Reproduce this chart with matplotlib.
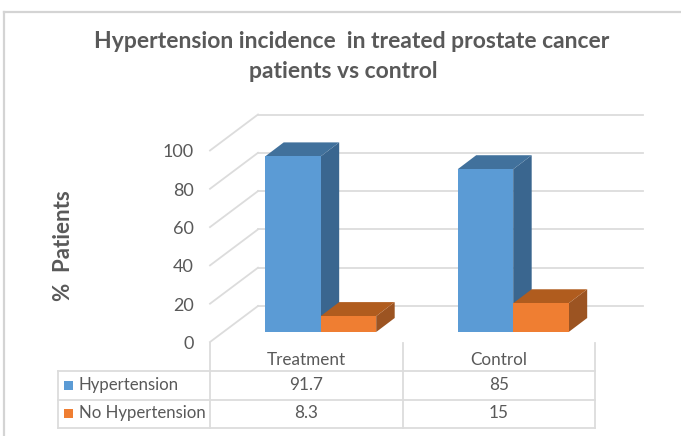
import matplotlib
matplotlib.use('Agg')
from matplotlib import pyplot as plt
from matplotlib.lines import Line2D
from matplotlib.patches import Polygon, Rectangle

plt.rcParams['font.family'] = ['Lato', 'DejaVu Sans']

categories = ['Treatment', 'Control']
hypertension = [91.7, 85]
no_hypertension = [8.3, 15]
y_ticks = [0, 20, 40, 60, 80, 100]

W, H = 681, 436
GRID = '#dcdcdc'
TEXT = '#595959'

# front plane of the fake 3D box, in pixels from top left
LEFT, CELL, ZERO_Y, PX_PER_UNIT = 210, 192.5, 342, 1.915
BACK_DX, BACK_DY = 48, 36
DEPTH_DX, DEPTH_DY = 18.5, 14
FLOOR = 10 / PX_PER_UNIT
BAR_W = 55.5 / CELL


def fig_line(fig, x, y, color=GRID, lw=1.3):
    fig.add_artist(Line2D([v / W for v in x], [1 - v / H for v in y], color=color, lw=lw))


def bar_3d(ax, left, value, front, side, top):
    ax.bar(left, value, BAR_W, bottom=FLOOR, align='edge', color=front, zorder=3)
    dx = DEPTH_DX / CELL
    dy = DEPTH_DY / PX_PER_UNIT
    y0 = FLOOR
    y1 = FLOOR + value
    right = left + BAR_W
    ax.add_patch(Polygon([(right, y0), (right + dx, y0 + dy), (right + dx, y1 + dy), (right, y1)],
                         color=side, lw=0, zorder=2, clip_on=False))
    ax.add_patch(Polygon([(left, y1), (right, y1), (right + dx, y1 + dy), (left + dx, y1 + dy)],
                         color=top, lw=0, zorder=2, clip_on=False))


fig = plt.figure(figsize=(W / 100, H / 100), dpi=100)
ax = fig.add_axes([LEFT / W, 1 - ZERO_Y / H, 2 * CELL / W, 100 * PX_PER_UNIT / H])
ax.set_xlim(-0.5, 1.5)
ax.set_ylim(0, 100)
ax.axis('off')
ax.set_zorder(5)  # bars sit on top of the figure level gridlines

# outer frame, only left and top are visible in the crop
fig_line(fig, [3.5, 3.5], [12, 436], '#d4d4d4', 1.6)
fig_line(fig, [3.5, 681], [12, 12], '#d4d4d4', 1.6)

# gridlines on side and back wall
for t in y_ticks:
    y = ZERO_Y - t * PX_PER_UNIT
    fig_line(fig, [LEFT, LEFT + BACK_DX], [y, y - BACK_DY])
    fig_line(fig, [LEFT + BACK_DX, 643], [y - BACK_DY, y - BACK_DY])
    ax.text(-0.5 - 16 / CELL, t - 1, str(t), ha='right', va='center', color=TEXT, fontsize=13, clip_on=False)

for i in range(len(categories)):
    cut = i + 0.075
    bar_3d(ax, cut - BAR_W, hypertension[i], '#5b9bd5', '#3a668f', '#41719c')
    bar_3d(ax, cut, no_hypertension[i], '#ef7e32', '#9c5422', '#b05c1e')

# data table below the plot
for x in [LEFT, LEFT + CELL, LEFT + 2 * CELL]:
    fig_line(fig, [x, x], [343, 428])
fig_line(fig, [58, 58], [371, 428])
for y in [371, 399.5, 428]:
    fig_line(fig, [58, LEFT + 2 * CELL], [y, y])

rows = [('Hypertension', hypertension, '#5b9bd5', 385), ('No Hypertension', no_hypertension, '#ef7e32', 413)]
for i, name in enumerate(categories):
    fig.text((LEFT + (i + 0.5) * CELL) / W, 1 - 360 / H, name, ha='center', va='center', color=TEXT, fontsize=12.3)
for name, values, color, y in rows:
    fig.add_artist(Rectangle((64 / W, 1 - (y + 4.5) / H), 9 / W, 9 / H, color=color, lw=0))
    fig.text(79 / W, 1 - y / H, name, ha='left', va='center', color=TEXT, fontsize=12.1)
    for i, v in enumerate(values):
        fig.text((LEFT + (i + 0.5) * CELL) / W, 1 - y / H, str(v), ha='center', va='center', color=TEXT, fontsize=12.3)

fig.text(352 / W, 1 - 42 / H, 'Hypertension incidence  in treated prostate cancer',
         ha='center', va='center', color=TEXT, fontsize=16.5, fontweight='bold')
fig.text(343.5 / W, 1 - 72 / H, 'patients vs control',
         ha='center', va='center', color=TEXT, fontsize=16.5, fontweight='bold')
fig.text(64 / W, 1 - 246 / H, '%  Patients', rotation=90, ha='center', va='center',
         color=TEXT, fontsize=16, fontweight='bold')

fig.savefig('out.png', dpi=100)
